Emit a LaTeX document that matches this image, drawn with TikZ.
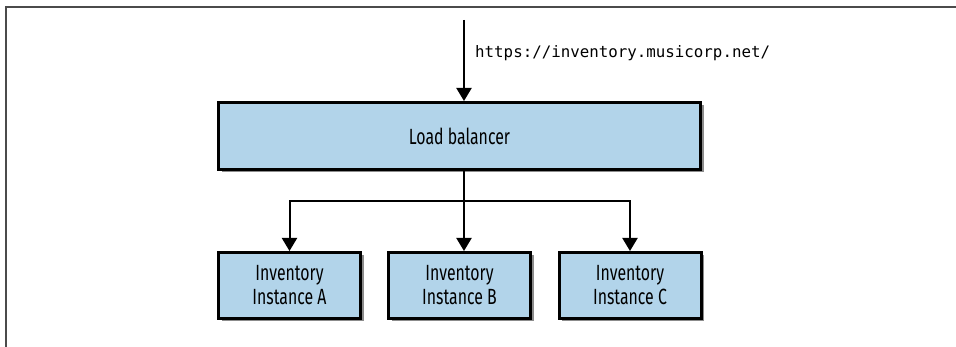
\documentclass[tikz,border=0pt]{standalone}
\usepackage{fontspec}
\setmainfont{Fira Sans}[FakeStretch=0.72]
\setmonofont{DejaVu Sans Mono}
\usetikzlibrary{arrows.meta, shadows}

\definecolor{boxblue}{RGB}{178,212,234}
\definecolor{framegray}{RGB}{75,75,75}

\begin{document}
\begin{tikzpicture}[x=1pt, y=1pt]

\tikzset{service/.style = {shape=rectangle, draw, line width=3pt, fill=boxblue,
  align=center, font=\fontsize{22}{24}\selectfont,
  drop shadow={shadow xshift=3pt, shadow yshift=-3pt, opacity=0.45, fill=black}}}
\tikzset{edge/.style = {line width=2pt, -{Triangle[width=15pt, length=13pt]}}}
\useasboundingbox (0,0) rectangle (956,347);
%frame
\draw[framegray, line width=2pt] (956,340) -- (6,340) -- (6,0);
%nodes
\node[service, minimum width=482pt, minimum height=67pt] (lb) at (459.5,211) {Load balancer};
\node[service, minimum width=142pt, minimum height=66pt] (a) at (289.5,61.5) {Inventory\\Instance A};
\node[service, minimum width=142pt, minimum height=66pt] (b) at (459.5,61.5) {Inventory\\Instance B};
\node[service, minimum width=142pt, minimum height=66pt] (c) at (630,61.5) {Inventory\\Instance C};
\coordinate (in) at (464,327);
\coordinate (hub) at (464,146);
\node[anchor=base west, inner sep=0pt, font=\ttfamily\fontsize{15.8}{19}\selectfont] (url) at (475,289) {https://inventory.musicorp.net/};
%edges
\draw[edge] (in) -- (in |- lb.north);
\draw[edge] (hub |- lb.south) -- (hub |- b.north);
\draw[edge] (hub |- lb.south) -- (hub) -| (a.north);
\draw[edge] (hub |- lb.south) -- (hub) -| (c.north);

\end{tikzpicture}
\end{document}
